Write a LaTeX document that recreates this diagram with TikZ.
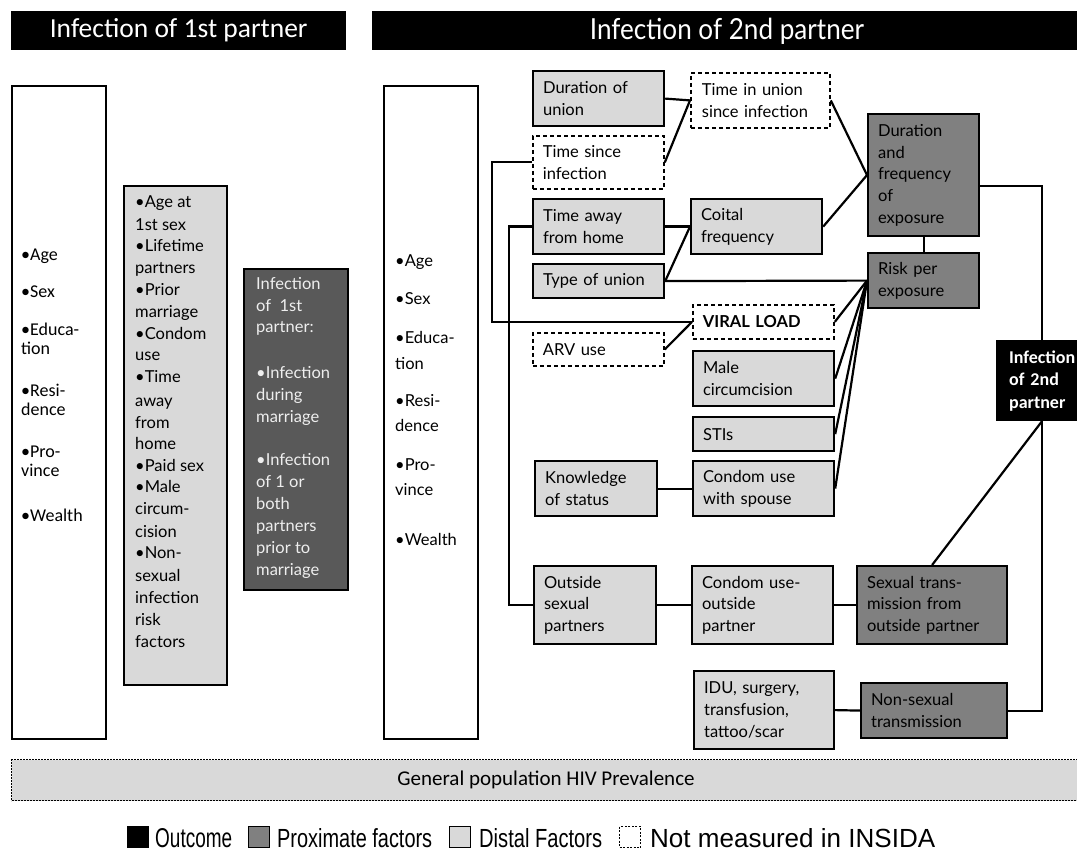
\documentclass[tikz,border=0pt]{standalone}
\usepackage{fontspec}
\usepackage{graphicx}
\setmainfont{Lato}
\newfontfamily\calfont{Carlito}
\newfontfamily\latofont{Lato}
\newfontfamily\legfont[FakeStretch=0.85]{Liberation Sans}
\newfontfamily\condfont[FakeStretch=0.9]{Lato}
\definecolor{distalc}{HTML}{D9D9D9}
\definecolor{proxc}{HTML}{808080}
\definecolor{darkc}{HTML}{595959}
\definecolor{lighttext}{HTML}{EEEEEE}
\newcommand\nf{\latofont\fontsize{16.5}{21.7}\selectfont\hyphenpenalty=10000\relax}
\newcommand\cf{\calfont\fontsize{18}{20}\selectfont}
\newcommand\lgt[2]{\resizebox{#1pt}{19pt}{\legfont #2}}
\tikzset{
  boxbase/.style={draw=black, line width=2.2pt, anchor=north west, inner xsep=10pt, inner ysep=0pt, align=left, font=\nf},
  distal/.style={boxbase, fill=distalc},
  prox/.style={boxbase, fill=proxc},
  notmeas/.style={boxbase, fill=white, dash pattern=on 4pt off 3pt, line width=1.8pt},
  outc/.style={boxbase, fill=black, text=white, inner xsep=12pt, font=\calfont\bfseries\fontsize{18}{22.5}\selectfont},
  conn/.style={line width=2.2pt},
  colbox/.style={draw=black, line width=2.2pt, anchor=north west, inner sep=0pt},
  ln/.style={anchor=base west, inner sep=0pt},
}
\begin{document}
\begin{tikzpicture}[x=1pt, y=-1pt]
\useasboundingbox (0,0) rectangle (1077,861);
\fill[white] (0,0) rectangle (1077,861);

% headers
\node[fill=black, anchor=north west, minimum width=335pt, minimum height=39pt, inner sep=0pt, text=white, font=\calfont\fontsize{27.5}{30}\selectfont] (h1) at (11,11) {Infection of 1st partner};
\node[fill=black, anchor=north west, minimum width=710pt, minimum height=39pt, inner sep=0pt] (h2) at (372,11) {};
\node[text=white, font=\condfont\fontsize{29}{32}\selectfont, inner sep=0pt] (h2t) at (727,31) {Infection of 2nd partner};

% left column boxes
\node[colbox, fill=white, minimum width=94pt, minimum height=653pt] (c1) at (11,85) {};
\node[colbox, fill=distalc, minimum width=103pt, minimum height=499pt] (c2) at (123,185) {};
\node[colbox, fill=darkc, minimum width=104pt, minimum height=321pt] (c3) at (243,268) {};
\node[colbox, fill=white, minimum width=94pt, minimum height=653pt] (c4) at (383,85) {};

\foreach \y/\t [count=\i] in {261/{•Age},298/{•Sex},335/{•Educa-},354/{tion},396/{•Resi-},415/{dence},457/{•Pro-},476/{vince},521/{•Wealth}}
  \node[ln, font=\cf] (c1l\i) at (21,\y) {\t};

\foreach \y/\t [count=\i] in {208/{•Age at},231/{1st sex},252/{•Lifetime},274/{partners},296/{•Prior},317/{marriage},339/{•Condom},360/{use},382/{•Time},406/{away},428/{from},449/{home},471/{•Paid sex},492/{•Male},514/{circum-},537/{cision},558/{•Non-},581/{sexual},603/{infection},625/{risk},647/{factors}}
  \node[ln, font=\nf] (c2l\i) at (135,\y) {\t};

\foreach \y/\t [count=\i] in {290/{Infection},312/{of\ \ 1st},333/{partner:},378/{•Infection},400/{during},422/{marriage},465/{•Infection},487/{of 1 or},509/{both},531/{partners},553/{prior to},575/{marriage}}
  \node[ln, font=\nf, text=lighttext] (c3l\i) at (256,\y) {\t};

\foreach \y/\t [count=\i] in {267/{•Age},305/{•Sex},343/{•Educa-},369/{tion},406/{•Resi-},431/{dence},470/{•Pro-},495/{vince},545/{•Wealth}}
  \node[ln, font=\nf] (c4l\i) at (395,\y) {\t};

% right side nodes
\node[distal, minimum width=131pt, minimum height=55pt, text width=111pt] (dur) at (532,70) {Duration of\\union};
\node[notmeas, minimum width=139pt, minimum height=55pt, text width=117pt, inner xsep=11pt] (tiu) at (690,72) {Time in union\\since infection};
\node[notmeas, minimum width=131pt, minimum height=53pt, text width=111pt] (tsi) at (532,135) {Time since\\infection};
\node[distal, minimum width=131pt, minimum height=55pt, text width=111pt] (taw) at (532,198) {Time away\\from home};
\node[distal, minimum width=131pt, minimum height=55pt, text width=111pt] (coit) at (690,198) {Coital\\frequency};
\node[distal, minimum width=131pt, minimum height=34pt, text width=111pt] (tou) at (532,263) {Type of union};
\node[prox, minimum width=111pt, minimum height=122pt, text width=91pt] (dfe) at (867,113) {Duration\\and\\frequency\\of\\exposure};
\node[prox, minimum width=111pt, minimum height=55pt, text width=91pt] (rpe) at (867,252) {Risk per\\exposure};
\node[notmeas, minimum width=141pt, minimum height=34pt, text width=121pt] (vl) at (692,304) {\textbf{VIRAL LOAD}};
\node[notmeas, minimum width=131pt, minimum height=33pt, text width=111pt] (arv) at (532,332) {ARV use};
\node[distal, minimum width=141pt, minimum height=55pt, text width=121pt] (mc) at (692,350) {Male\\circumcision};
\node[distal, minimum width=141pt, minimum height=34pt, text width=121pt] (sti) at (692,416) {STIs};
\node[distal, minimum width=122pt, minimum height=55pt, text width=102pt] (kos) at (534,460) {Knowledge\\of status};
\node[distal, minimum width=141pt, minimum height=55pt, text width=121pt] (cus) at (692,460) {Condom use\\with spouse};
\node[distal, minimum width=122pt, minimum height=78pt, text width=102pt] (osp) at (533,565) {Outside\\sexual\\partners};
\node[distal, minimum width=141pt, minimum height=78pt, text width=121pt] (cuo) at (691,565) {Condom use-\\outside\\partner};
\node[prox, minimum width=150pt, minimum height=78pt, text width=130pt] (stop) at (856,565) {Sexual trans-\\mission from\\outside partner};
\node[distal, minimum width=140pt, minimum height=78pt, text width=120pt] (idu) at (693,670) {IDU, surgery,\\transfusion,\\tattoo/scar};
\node[prox, minimum width=146pt, minimum height=55pt, text width=126pt] (nst) at (860,682) {Non-sexual\\transmission};
\node[outc, minimum width=95pt, minimum height=79pt, text width=71pt] (inf2) at (996,340) {Infection\\of 2nd\\partner};

% connectors
\coordinate (vx) at (1042,0);
\coordinate (lx1) at (492,0);
\coordinate (lx2) at (509,0);
\draw[conn] (dur.east) -- (tiu.west);
\draw[conn] (tsi.east) -- (tiu.west);
\draw[conn] (tiu.east) -- (dfe.west);
\draw[conn] (taw.east) -- (coit.west);
\draw[conn] (tou.east) -- (coit.west);
\draw[conn] (coit.east) -- (dfe.west);
\draw[conn] (dfe.south) -- (rpe.north);
\draw[conn] (tou.east) -- (rpe.west);
\draw[conn] (vl.east) -- (rpe.west);
\draw[conn] (mc.east) -- (rpe.west);
\draw[conn] (sti.east) -- (rpe.west);
\draw[conn] (cus.east) -- (rpe.west);
\draw[conn] (arv.east) -- (vl.west);
\draw[conn] (tsi.west) -- (tsi.west -| lx1) |- (vl.west);
\draw[conn] (taw.west) -- (taw.west -| lx2) |- (osp.west);
\draw[conn] (kos.east) -- (cus.west);
\draw[conn] (osp.east) -- (cuo.west);
\draw[conn] (cuo.east) -- (stop.west);
\draw[conn] (idu.east) -- (nst.west);
\draw[conn] (stop.north) -- (vx |- inf2.south);
\draw[conn] ([yshift=-11pt]dfe.east) -| (vx |- inf2.north);
\draw[conn] (nst.east) -| (vx |- inf2.south);

% general population bar
\node[draw=black, fill=distalc, dash pattern=on 2pt off 1pt, line width=1.2pt, anchor=north west, minimum width=1075pt, minimum height=41pt, inner sep=0pt] (gp) at (11,759) {};
\node[font=\calfont\fontsize{21}{24}\selectfont, inner sep=0pt] (gpt) at (546,780) {General population HIV Prevalence};

% legend
\node[fill=black, anchor=north west, minimum size=22pt, inner sep=0pt] (lg1) at (127,826) {};
\node[anchor=base west, inner sep=0pt] (lg1t) at (155,847) {\lgt{77}{Outcome}};
\node[draw=black, fill=proxc, line width=1pt, anchor=north west, minimum size=21pt, inner sep=0pt] (lg2) at (248,826) {};
\node[anchor=base west, inner sep=0pt] (lg2t) at (277,847) {\lgt{155}{Proximate factors}};
\node[draw=black, fill=distalc, line width=1pt, anchor=north west, minimum size=21pt, inner sep=0pt] (lg3) at (449,826) {};
\node[anchor=base west, inner sep=0pt] (lg3t) at (479,847) {\lgt{123}{Distal Factors}};
\node[draw=black, dash pattern=on 2pt off 1.5pt, line width=1pt, anchor=north west, minimum size=21pt, inner sep=0pt] (lg4) at (619,826) {};
\node[anchor=base west, inner sep=0pt] (lg4t) at (650,847) {\lgt{285}{Not measured in INSIDA}};
\end{tikzpicture}
\end{document}
